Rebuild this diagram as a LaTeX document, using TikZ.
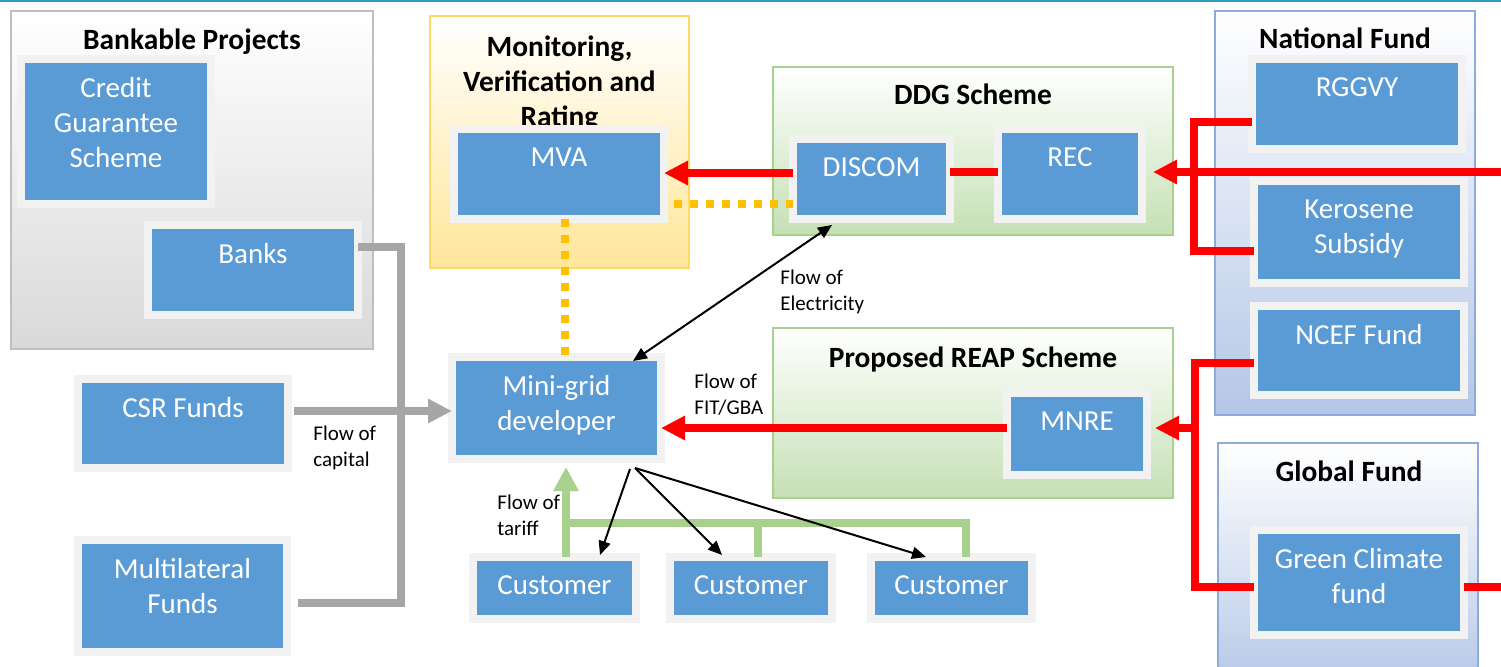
\documentclass[tikz,border=0pt]{standalone}
\usepackage{fontspec}
\setmainfont{Carlito}
\usetikzlibrary{arrows.meta,calc}
\definecolor{boxblue}{HTML}{5B9BD5}
\definecolor{framegray}{HTML}{F2F2F2}
\definecolor{capgray}{HTML}{A6A6A6}
\definecolor{tariffgreen}{HTML}{A9D18E}
\definecolor{mvgold}{HTML}{FFC000}
\definecolor{fundred}{HTML}{FF0000}
\definecolor{topteal}{HTML}{2E9CC0}
\definecolor{bpborder}{HTML}{BFBFBF}
\definecolor{bpbottom}{HTML}{D9D9D9}
\definecolor{mvborder}{HTML}{FFD966}
\definecolor{mvbottom}{HTML}{FFE699}
\definecolor{grborder}{HTML}{A9D18E}
\definecolor{grbottom}{HTML}{C5E0B4}
\definecolor{nfborder}{HTML}{8FAADC}
\definecolor{nfbottom}{HTML}{B4C7E7}
\tikzset{
 bluebox/.style={rectangle, draw=framegray, line width=4pt, fill=boxblue, inner sep=0pt, outer sep=0pt},
 boxtext/.style={text=white, font=\fontsize{14.5}{17.5}\selectfont, align=center, inner sep=0pt, anchor=north},
 grpbox/.style={rectangle, line width=1pt, inner sep=0pt, outer sep=0pt},
 grptitle/.style={font=\bfseries\fontsize{14.7}{17.5}\selectfont, align=center, inner sep=0pt},
 flowlbl/.style={font=\fontsize{10.5}{13}\selectfont, align=left, inner sep=0pt, anchor=north west},
 redline/.style={draw=fundred, line width=4pt},
 redarrow/.style={redline, -{Triangle[length=12pt,width=11.5pt]}},
 grayline/.style={draw=capgray, line width=4pt},
 grayarrow/.style={grayline, -{Triangle[length=12pt,width=11.5pt]}},
 greenline/.style={draw=tariffgreen, line width=4pt},
 greenarrow/.style={greenline, -{Triangle[length=12pt,width=12pt]}},
 dotline/.style={draw=mvgold, line width=3.75pt, dash pattern=on 3.75pt off 4.25pt},
 blackarrow/.style={draw=black, line width=1pt, -{Triangle[length=7pt,width=6pt]}},
 blackdbl/.style={draw=black, line width=1pt, {Triangle[length=7pt,width=6pt]}-{Triangle[length=7pt,width=6pt]}},
}
\newcommand\grpbx[7]{%
 \node[grpbox, draw=#6, top color=white, bottom color=#7,
   minimum width={(#4-#2)*0.5pt}, minimum height={(#5-#3)*0.5pt}] (#1) at ({(#2+#4)/2},{(#3+#5)/2}) {};}
\newcommand\bbx[6]{%
 \node[bluebox, minimum width={(#4-#2+8)*0.5pt}, minimum height={(#5-#3+8)*0.5pt}] (#1) at ({(#2+#4)/2},{(#3+#5)/2}) {};
 \node[boxtext] (#1-txt) at ({(#2+#4)/2},{#3+14}) {#6};}
\begin{document}
\begin{tikzpicture}[x=0.5pt,y=-0.5pt]
\useasboundingbox (0,0) rectangle (1501,666);
\draw[topteal, line width=1.2pt] (0,1) -- (1501,1);

% group boxes
\grpbx{bp}{11}{11}{373}{349}{bpborder}{bpbottom}
\grpbx{mvr}{430}{16}{689}{268}{mvborder}{mvbottom}
\grpbx{ddg}{773}{67}{1173}{235}{grborder}{grbottom}
\grpbx{reap}{773}{328}{1173}{498}{grborder}{grbottom}
\grpbx{nf}{1215}{11}{1475}{415}{nfborder}{nfbottom}
\grpbx{gf}{1218}{443}{1478}{690}{nfborder}{nfbottom}

% titles
\node[grptitle, anchor=base] (bp-title) at (192,49) {Bankable Projects};
\node[grptitle, anchor=north] (mvr-title) at (559.5,35) {Monitoring,\\Verification and\\Rating};
\node[grptitle, anchor=base] (ddg-title) at (973,104) {DDG Scheme};
\node[grptitle, anchor=base] (reap-title) at (973,367) {Proposed REAP Scheme};
\node[grptitle, anchor=base] (nf-title) at (1345,48) {National Fund};
\node[grptitle, anchor=base] (gf-title) at (1349,481) {Global Fund};

% blue boxes
\bbx{cgs}{25}{63}{207}{200}{Credit\\Guarantee\\Scheme}
\bbx{banks}{152}{229}{354}{311}{Banks}
\bbx{mva}{458}{133}{660}{215}{MVA}
\bbx{discom}{797}{143}{946}{215}{DISCOM}
\bbx{rec}{1002}{133}{1138}{215}{REC}
\bbx{rggvy}{1256}{63}{1458}{145}{RGGVY}
\bbx{kero}{1258}{185}{1460}{279}{Kerosene\\Subsidy}
\bbx{ncef}{1258}{310}{1460}{391}{NCEF Fund}
\bbx{gcf}{1258}{534}{1460}{631}{Green Climate\\fund}
\bbx{mnre}{1011}{397}{1143}{471}{MNRE}
\bbx{mg}{456}{361}{657}{455}{Mini-grid\\developer}
\bbx{csr}{82}{383}{284}{464}{CSR Funds}
\bbx{mlf}{82}{544}{283}{648}{Multilateral\\Funds}
\bbx{cus1}{477}{561}{632}{615}{Customer}
\bbx{cus2}{674}{561}{828}{615}{Customer}
\bbx{cus3}{875}{561}{1028}{615}{Customer}

% flow labels
\node[flowlbl] (lbl-elec) at (780,270) {Flow of\\Electricity};
\node[flowlbl] (lbl-cap) at (313,426) {Flow of\\capital};
\node[flowlbl] (lbl-fit) at (694,374) {Flow of\\FIT/GBA};
\node[flowlbl] (lbl-tar) at (497,495) {Flow of\\tariff};

% coordinates for free ends / buses
\coordinate (rightin) at (1501,172);
\coordinate (rightgcf) at (1501,587);
\coordinate (nfbus) at (1194,0);
\coordinate (gfbus) at (1195,0);
\coordinate (capbus) at (401,0);

% yellow dotted
\draw[dotline, shorten <=5pt] (mva.east |- 0,204) -- (discom.west |- 0,204);
\draw[dotline] (mva.south -| 565,0) -- (mg.north -| 565,0);

% red connectors
\draw[redarrow] (discom.west |- 0,173) -- (mva.east |- 0,173);
\draw[redline] (discom.east |- 0,172) -- (rec.west |- 0,172);
\draw[redarrow, shorten >=5.5pt] (rightin) -- (rec.east |- rightin);
\draw[redline] (rggvy.west |- 0,122) -- (nfbus |- 0,122) -- (nfbus |- 0,251) -- (kero.west |- 0,251);
\draw[redline] (ncef.west |- 0,363) -- (gfbus |- 0,363) -- (gfbus |- 0,587) -- (gcf.west |- 0,587);
\draw[redarrow, shorten >=4pt] (gfbus |- 0,428) -- (mnre.east |- 0,428);
\draw[redline] (gcf.east |- 0,587) -- (rightgcf);
\draw[redarrow] (mnre.west |- 0,428) -- (mg.east |- 0,428);

% gray capital connectors
\draw[grayline, shorten <=5.5pt] (mlf.east |- 0,603) -- (capbus |- 0,603) -- (capbus |- 0,247) -- (banks.east |- 0,247);
\draw[grayarrow, shorten <=3pt] (csr.east |- 0,411) -- (mg.west |- 0,411);

% green tariff
\draw[greenarrow, shorten >=4pt] (cus1.north -| 566,0) -- (mg.south -| 566,0);
\draw[greenline] (566,523) -- (966,523) -- (cus3.north -| 966,0);
\draw[greenline] (758,523) -- (cus2.north -| 758,0);

% black arrows
\draw[blackdbl] ($(discom.south west)+(39,6)$) -- ($(mg.north west)+(181,4)$);
\draw[blackarrow] ($(mg.south west)+(178,10)$) -- ($(cus1.north west)+(127,-2)$);
\draw[blackarrow] ($(mg.south west)+(183,9)$) -- ($(cus2.north west)+(52,-2)$);
\draw[blackarrow] ($(mg.south west)+(183,9)$) -- ($(cus3.north west)+(55,0)$);
\end{tikzpicture}
\end{document}
